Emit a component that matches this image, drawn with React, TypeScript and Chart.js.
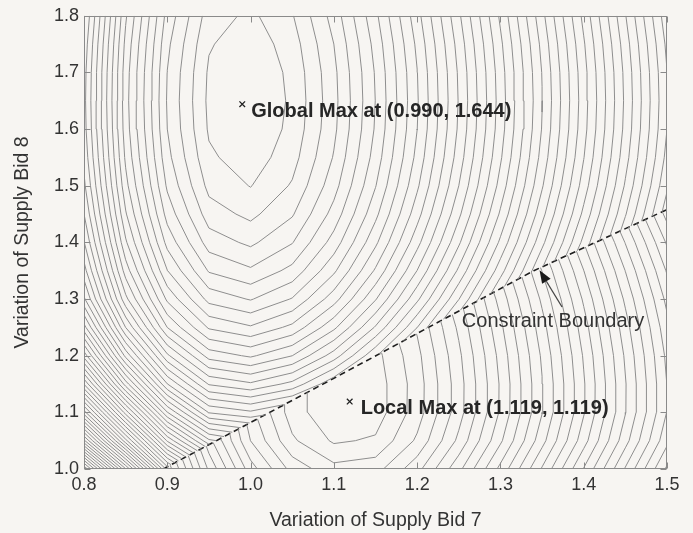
import React, { useEffect, useRef } from "react";
import { Chart, registerables } from "chart.js";

Chart.register(...registerables);

// ---------- axes ----------
const xTickValues = [0.8, 0.9, 1.0, 1.1, 1.2, 1.3, 1.4, 1.5];
const yTickValues = [1.0, 1.1, 1.2, 1.3, 1.4, 1.5, 1.6, 1.7, 1.8];
const xTitle = "Variation of Supply Bid 7";
const yTitle = "Variation of Supply Bid 8";

// ---------- sampled surface (contour levels below each maximum) ----------
const gridX = [0.8, 0.85, 0.9, 0.95, 1.0, 1.05, 1.1, 1.15, 1.2, 1.25, 1.3, 1.35, 1.4, 1.45, 1.5];

// region above the constraint boundary (global maximum side), rows y = 1.00 .. 1.80
const upperGridY = [1.0, 1.05, 1.1, 1.15, 1.2, 1.25, 1.3, 1.35, 1.4, 1.45, 1.5, 1.55, 1.6, 1.65, 1.7, 1.75, 1.8];
const upperRows = [
  [59.98, 48.08, 36.58, 30.45, 28.71, 29.86, 32.35, 35.7, 39.57, 43.75, 48.13, 52.64, 57.23, 61.88, 66.58],
  [50.25, 39.35, 29.85, 24.22, 22.98, 24.13, 26.62, 29.97, 33.84, 38.02, 42.4, 46.91, 51.5, 56.15, 60.85],
  [42.44, 32.54, 24.04, 18.91, 18.17, 19.32, 21.81, 25.16, 29.03, 33.21, 37.59, 42.1, 46.69, 51.34, 56.04],
  [35.93, 26.53, 19.03, 14.9, 14.16, 15.31, 17.8, 21.15, 25.02, 29.2, 33.58, 38.09, 42.68, 47.33, 52.03],
  [30.61, 21.71, 15.21, 11.58, 10.84, 11.99, 14.48, 17.83, 21.7, 25.88, 30.26, 34.77, 39.36, 44.01, 48.71],
  [26.39, 17.99, 11.99, 8.86, 8.12, 9.27, 11.76, 15.11, 18.98, 23.16, 27.54, 32.05, 36.64, 41.29, 45.99],
  [23.19, 15.29, 9.79, 6.66, 5.92, 7.07, 9.56, 12.91, 16.78, 20.96, 25.34, 29.85, 34.44, 39.09, 43.79],
  [21.43, 13.53, 8.03, 4.9, 4.16, 5.31, 7.8, 11.15, 15.02, 19.2, 23.58, 28.09, 32.68, 37.33, 42.03],
  [20.06, 12.16, 6.66, 3.53, 2.79, 3.94, 6.43, 9.78, 13.65, 17.83, 22.21, 26.72, 31.31, 35.96, 40.66],
  [19.01, 11.11, 5.61, 2.48, 1.74, 2.89, 5.38, 8.73, 12.6, 16.78, 21.16, 25.67, 30.26, 34.91, 39.61],
  [18.23, 10.33, 4.83, 1.7, 0.96, 2.11, 4.6, 7.95, 11.82, 16.0, 20.38, 24.89, 29.48, 34.13, 38.83],
  [17.71, 9.81, 4.31, 1.18, 0.44, 1.59, 4.08, 7.43, 11.3, 15.48, 19.86, 24.37, 28.96, 33.61, 38.31],
  [17.4, 9.5, 4.0, 0.87, 0.13, 1.28, 3.77, 7.12, 10.99, 15.17, 19.55, 24.06, 28.65, 33.3, 38.0],
  [17.3, 9.4, 3.9, 0.77, 0.03, 1.18, 3.67, 7.02, 10.89, 15.07, 19.45, 23.96, 28.55, 33.2, 37.9],
  [17.38, 9.48, 3.98, 0.85, 0.11, 1.26, 3.75, 7.1, 10.97, 15.15, 19.53, 24.04, 28.63, 33.28, 37.98],
  [17.63, 9.73, 4.23, 1.1, 0.36, 1.51, 4.0, 7.35, 11.22, 15.4, 19.78, 24.29, 28.88, 33.53, 38.23],
  [18.04, 10.14, 4.64, 1.51, 0.77, 1.92, 4.41, 7.76, 11.63, 15.81, 20.19, 24.7, 29.29, 33.94, 38.64],
];

// region below the constraint boundary (local maximum side), rows y = 1.00 .. 1.50
const lowerGridY = [1.0, 1.05, 1.1, 1.15, 1.2, 1.25, 1.3, 1.35, 1.4, 1.45, 1.5];
const lowerRows = [
  [32.71, 23.91, 16.61, 10.81, 6.46, 3.64, 2.32, 2.61, 4.65, 7.72, 11.29, 15.11, 19.06, 23.1, 27.19],
  [31.24, 22.44, 15.14, 9.34, 4.99, 2.17, 0.85, 1.14, 3.18, 6.25, 9.82, 13.64, 17.59, 21.63, 25.72],
  [30.56, 21.76, 14.46, 8.66, 4.31, 1.49, 0.17, 0.46, 2.5, 5.57, 9.14, 12.96, 16.91, 20.95, 25.04],
  [30.54, 21.74, 14.44, 8.64, 4.29, 1.47, 0.15, 0.44, 2.48, 5.55, 9.12, 12.94, 16.89, 20.93, 25.02],
  [30.76, 21.96, 14.66, 8.86, 4.51, 1.69, 0.37, 0.66, 2.7, 5.77, 9.34, 13.16, 17.11, 21.15, 25.24],
  [31.19, 22.39, 15.09, 9.29, 4.94, 2.12, 0.8, 1.09, 3.13, 6.2, 9.77, 13.59, 17.54, 21.58, 25.67],
  [31.81, 23.01, 15.71, 9.91, 5.56, 2.74, 1.42, 1.71, 3.75, 6.82, 10.39, 14.21, 18.16, 22.2, 26.29],
  [32.63, 23.83, 16.53, 10.73, 6.38, 3.56, 2.24, 2.53, 4.57, 7.64, 11.21, 15.03, 18.98, 23.02, 27.11],
  [33.66, 24.86, 17.56, 11.76, 7.41, 4.59, 3.27, 3.56, 5.6, 8.67, 12.24, 16.06, 20.01, 24.05, 28.14],
  [34.88, 26.08, 18.78, 12.98, 8.63, 5.81, 4.49, 4.78, 6.82, 9.89, 13.46, 17.28, 21.23, 25.27, 29.36],
  [36.31, 27.51, 20.21, 14.41, 10.06, 7.24, 5.92, 6.21, 8.25, 11.32, 14.89, 18.71, 22.66, 26.7, 30.79],
];

const contourStep = 1;
const upperTopLevel = 70;
const lowerTopLevel = 40;

// ---------- constraint boundary ----------
const boundaryX = [0.895, 1.11, 1.34, 1.5];
const boundaryY = [1.0, 1.168, 1.35, 1.458];

// ---------- annotations ----------
const globalMax = { x: 0.99, y: 1.644 };
const localMax = { x: 1.119, y: 1.119 };
const globalLabel = "Global Max at (0.990, 1.644)";
const localLabel = "Local Max at (1.119, 1.119)";
const boundaryLabel = "Constraint Boundary";
const boundaryLabelAt = { x: 1.2537, y: 1.2597 };
const arrowFrom = { x: 1.374, y: 1.286 };
const arrowTo = { x: 1.347, y: 1.351 };

// ---------- styles ----------
const BG = "#f7f5f2";
const LINE = "#8e8e8e";
const FRAME = "#8a8a8a";
const TEXT = "#333333";
const FONT = '"Liberation Sans", Arial, Helvetica, sans-serif';

type Pt = { x: number; y: number | null };

function boundaryAt(x: number): number {
  let k = 0;
  while (k < boundaryX.length - 2 && x > boundaryX[k + 1]) k++;
  const x0 = boundaryX[k], x1 = boundaryX[k + 1];
  const y0 = boundaryY[k], y1 = boundaryY[k + 1];
  return y0 + ((y1 - y0) * (x - x0)) / (x1 - x0);
}

function pushClipped(p: { x: number; y: number }, q: { x: number; y: number }, keepAbove: boolean, out: Pt[]) {
  let sp = p.y - boundaryAt(p.x);
  let sq = q.y - boundaryAt(q.x);
  if (!keepAbove) {
    sp = -sp;
    sq = -sq;
  }
  if (sp < 0 && sq < 0) return;
  let a = p, b = q;
  if (sp < 0 || sq < 0) {
    const t = sp / (sp - sq);
    const m = { x: p.x + t * (q.x - p.x), y: p.y + t * (q.y - p.y) };
    if (sp < 0) a = m;
    else b = m;
  }
  out.push({ x: a.x, y: a.y }, { x: b.x, y: b.y }, { x: b.x, y: null });
}

function contourSegments(xs: number[], ys: number[], rows: number[][], top: number, keepAbove: boolean): Pt[] {
  const out: Pt[] = [];
  for (let lv = contourStep; lv <= top; lv += contourStep) {
    const L = lv + 1e-7;
    for (let j = 0; j < ys.length - 1; j++) {
      for (let i = 0; i < xs.length - 1; i++) {
        const a = rows[j][i], b = rows[j][i + 1], c = rows[j + 1][i + 1], d = rows[j + 1][i];
        const x0 = xs[i], x1 = xs[i + 1], y0 = ys[j], y1 = ys[j + 1];
        const edge = (va: number, vb: number, xa: number, ya: number, xb: number, yb: number) => {
          if ((va - L) * (vb - L) < 0) {
            const t = (L - va) / (vb - va);
            return { x: xa + t * (xb - xa), y: ya + t * (yb - ya) };
          }
          return null;
        };
        const pb = edge(a, b, x0, y0, x1, y0);
        const pr = edge(b, c, x1, y0, x1, y1);
        const pt = edge(c, d, x1, y1, x0, y1);
        const pl = edge(d, a, x0, y1, x0, y0);
        const found = [pb, pr, pt, pl].filter((p) => p !== null) as { x: number; y: number }[];
        if (found.length === 2) {
          pushClipped(found[0], found[1], keepAbove, out);
        } else if (found.length === 4) {
          const center = (a + b + c + d) / 4;
          if ((center > L) === (a > L)) {
            pushClipped(pb!, pr!, keepAbove, out);
            pushClipped(pt!, pl!, keepAbove, out);
          } else {
            pushClipped(pl!, pb!, keepAbove, out);
            pushClipped(pr!, pt!, keepAbove, out);
          }
        }
      }
    }
  }
  return out;
}

const decorPlugin = {
  id: "decor",
  beforeDraw(chart: any) {
    const { ctx, width, height } = chart;
    ctx.save();
    ctx.fillStyle = BG;
    ctx.fillRect(0, 0, width, height);
    ctx.restore();
  },
  afterDatasetsDraw(chart: any) {
    const { ctx, chartArea: a, scales } = chart;
    const xs = scales.x, ys = scales.y;
    ctx.save();
    // frame
    ctx.strokeStyle = FRAME;
    ctx.lineWidth = 1;
    const L = Math.round(a.left) + 0.5, R = Math.round(a.right) - 0.5;
    const T = Math.round(a.top) + 0.5, B = Math.round(a.bottom) - 0.5;
    ctx.strokeRect(L, T, R - L, B - T);
    // inward ticks on all sides
    const TL = 6;
    ctx.beginPath();
    for (const v of xTickValues) {
      const px = Math.round(xs.getPixelForValue(v)) + 0.5;
      ctx.moveTo(px, B);
      ctx.lineTo(px, B - TL);
      ctx.moveTo(px, T);
      ctx.lineTo(px, T + TL);
    }
    for (const v of yTickValues) {
      const py = Math.round(ys.getPixelForValue(v)) + 0.5;
      ctx.moveTo(L, py);
      ctx.lineTo(L + TL, py);
      ctx.moveTo(R, py);
      ctx.lineTo(R - TL, py);
    }
    ctx.stroke();

    // labels
    ctx.fillStyle = "#262626";
    ctx.textAlign = "left";
    ctx.textBaseline = "middle";
    ctx.font = `bold 20px ${FONT}`;
    ctx.fillText(globalLabel, xs.getPixelForValue(globalMax.x) + 9, ys.getPixelForValue(globalMax.y) + 7);
    ctx.fillText(localLabel, xs.getPixelForValue(localMax.x) + 11, ys.getPixelForValue(localMax.y) + 7);
    ctx.fillStyle = TEXT;
    ctx.font = `20px ${FONT}`;
    ctx.fillText(boundaryLabel, xs.getPixelForValue(boundaryLabelAt.x), ys.getPixelForValue(boundaryLabelAt.y));

    // arrow
    const fx = xs.getPixelForValue(arrowFrom.x), fy = ys.getPixelForValue(arrowFrom.y);
    const tx = xs.getPixelForValue(arrowTo.x), ty = ys.getPixelForValue(arrowTo.y);
    const ang = Math.atan2(ty - fy, tx - fx);
    const HL = 13, HW = 5;
    const bx = tx - HL * Math.cos(ang), by = ty - HL * Math.sin(ang);
    ctx.strokeStyle = "#444";
    ctx.lineWidth = 1.3;
    ctx.beginPath();
    ctx.moveTo(fx, fy);
    ctx.lineTo(bx, by);
    ctx.stroke();
    ctx.fillStyle = "#1a1a1a";
    ctx.beginPath();
    ctx.moveTo(tx, ty);
    ctx.lineTo(bx + HW * Math.sin(ang), by - HW * Math.cos(ang));
    ctx.lineTo(bx - HW * Math.sin(ang), by + HW * Math.cos(ang));
    ctx.closePath();
    ctx.fill();
    ctx.restore();
  },
  afterDraw(chart: any) {
    // the source figure is cropped just right of the last x tick label
    const { ctx, height } = chart;
    ctx.save();
    ctx.fillStyle = BG;
    ctx.fillRect(681, 0, 20, height);
    ctx.restore();
  },
};

export default function App() {
  const ref = useRef<HTMLCanvasElement>(null);
  useEffect(() => {
    document.body.style.margin = "0";
    document.body.style.background = BG;
    const canvas = ref.current!;
    const upperSegs = contourSegments(gridX, upperGridY, upperRows, upperTopLevel, true);
    const lowerSegs = contourSegments(gridX, lowerGridY, lowerRows, lowerTopLevel, false);
    const boundaryData = boundaryX.map((x, i) => ({ x, y: boundaryY[i] }));

    const tickFont = { family: FONT, size: 18 };
    const titleFont = { family: FONT, size: 19.5 };

    const chart = new Chart(canvas, {
      type: "scatter",
      data: {
        datasets: [
          {
            data: upperSegs as any,
            showLine: true,
            pointRadius: 0,
            borderColor: LINE,
            borderWidth: 1,
            spanGaps: false,
          },
          {
            data: lowerSegs as any,
            showLine: true,
            pointRadius: 0,
            borderColor: LINE,
            borderWidth: 1,
            spanGaps: false,
          },
          {
            data: boundaryData,
            showLine: true,
            pointRadius: 0,
            borderColor: "#1e1e1e",
            borderWidth: 1.6,
            borderDash: [6, 4],
          },
          {
            data: [globalMax, localMax],
            showLine: false,
            pointStyle: "crossRot",
            pointRadius: 4,
            borderColor: "#222",
            borderWidth: 1.3,
          },
        ],
      },
      options: {
        animation: false,
        responsive: false,
        devicePixelRatio: 1,
        events: [],
        layout: { padding: { top: 11, right: 26, bottom: 0, left: 0 } },
        plugins: { legend: { display: false }, tooltip: { enabled: false } },
        scales: {
          x: {
            type: "linear",
            min: 0.8,
            max: 1.5,
            afterBuildTicks: (s: any) => {
              s.ticks = xTickValues.map((v) => ({ value: v }));
            },
            afterFit: (s: any) => {
              s.height = 64;
            },
            ticks: {
              font: tickFont,
              color: TEXT,
              padding: 5,
              maxRotation: 0,
              autoSkip: false,
              callback: (v: any) => Number(v).toFixed(1),
            },
            grid: { display: false, drawTicks: false },
            border: { display: false },
            title: { display: true, text: xTitle, font: titleFont, color: TEXT, padding: { top: 0, bottom: 1 } },
          },
          y: {
            type: "linear",
            min: 1.0,
            max: 1.8,
            afterBuildTicks: (s: any) => {
              s.ticks = yTickValues.map((v) => ({ value: v }));
            },
            afterFit: (s: any) => {
              s.width = 84;
            },
            ticks: {
              font: tickFont,
              color: TEXT,
              padding: 5,
              autoSkip: false,
              callback: (v: any) => Number(v).toFixed(1),
            },
            grid: { display: false, drawTicks: false },
            border: { display: false },
            title: { display: true, text: yTitle, font: titleFont, color: TEXT, padding: { top: 11, bottom: 0 } },
          },
        },
      },
      plugins: [decorPlugin],
    });
    return () => chart.destroy();
  }, []);
  return <canvas ref={ref} width={693} height={533} style={{ display: "block", width: 693, height: 533 }} />;
}
